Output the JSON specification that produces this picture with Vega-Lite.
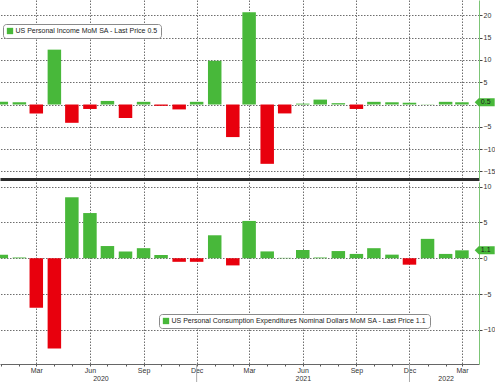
{
  "$schema": "https://vega.github.io/schema/vega-lite/v6.json",
  "padding": 0,
  "background": "white",
  "spacing": 3,
  "config": {
    "view": {"stroke": null},
    "font": "Liberation Sans",
    "axis": {"labelFont": "Liberation Sans", "labelFontSize": 7, "labelColor": "#333", "title": null, "labelOverlap": false, "grid": true, "gridColor": "#6e6e6e", "gridDash": [1.5, 1.5], "gridWidth": 1}
  },
  "resolve": {"scale": {"color": "independent", "y": "independent", "x": "independent"}, "legend": {"color": "independent"}},
  "vconcat": [
    {
      "width": 479,
      "height": 179,
      "layer": [
        {
          "data": {"values": [
            {"date": "2020-01-01", "v": 0.6}, {"date": "2020-02-01", "v": 0.5}, {"date": "2020-03-01", "v": -2.0},
            {"date": "2020-04-01", "v": 12.3}, {"date": "2020-05-01", "v": -4.1}, {"date": "2020-06-01", "v": -1.0},
            {"date": "2020-07-01", "v": 0.8}, {"date": "2020-08-01", "v": -3.0}, {"date": "2020-09-01", "v": 0.6},
            {"date": "2020-10-01", "v": -0.3}, {"date": "2020-11-01", "v": -1.1}, {"date": "2020-12-01", "v": 0.6},
            {"date": "2021-01-01", "v": 9.8}, {"date": "2021-02-01", "v": -7.3}, {"date": "2021-03-01", "v": 20.7},
            {"date": "2021-04-01", "v": -13.3}, {"date": "2021-05-01", "v": -2.0}, {"date": "2021-06-01", "v": 0.2},
            {"date": "2021-07-01", "v": 1.1}, {"date": "2021-08-01", "v": 0.3}, {"date": "2021-09-01", "v": -1.0},
            {"date": "2021-10-01", "v": 0.6}, {"date": "2021-11-01", "v": 0.5}, {"date": "2021-12-01", "v": 0.4},
            {"date": "2022-01-01", "v": 0.05}, {"date": "2022-02-01", "v": 0.6}, {"date": "2022-03-01", "v": 0.5}
          ]},
          "transform": [{"calculate": "datum.v < 0 ? 'neg' : 'US Personal Income MoM SA - Last Price 0.5'", "as": "s"}],
          "mark": {"type": "bar", "width": 13.5, "clip": true},
          "encoding": {
            "x": {"field": "date", "type": "temporal",
              "scale": {"type": "utc", "domain": [{"year": 2020, "month": 1, "date": 7, "hours": 8, "utc": true}, {"year": 2022, "month": 3, "date": 21, "hours": 16, "utc": true}]},
              "axis": {"orient": "bottom", "labels": false, "ticks": false, "domain": true, "domainColor": "#2b2b2b", "domainWidth": 3, "grid": true,
                "gridOpacity": {"condition": {"test": "utcmonth(datum.value) % 3 == 2", "value": 1}, "value": 0},
                "tickCount": {"interval": "month", "step": 1}}},
            "y": {"field": "v", "type": "quantitative", "scale": {"domain": [-16.7, 23.43], "nice": false, "zero": false},
              "axis": {"orient": "right", "tickCount": 8, "grid": true, "labelExpr": "datum.value == 0 ? '' : datum.label",
                "labelOverlap": false, "labelFlush": false, "labelBound": false, "domainColor": "#7cc576", "tickColor": "#444", "tickSize": 3, "labelPadding": 1}},
            "color": {"field": "s", "type": "nominal",
              "scale": {"domain": ["US Personal Income MoM SA - Last Price 0.5", "neg"], "range": ["#48b83a", "#e8000d"]},
              "legend": {"orient": "none", "title": null, "symbolType": "square", "symbolSize": 40, "symbolStrokeWidth": 0, "labelFontSize": 7, "labelFont": "Liberation Sans", "labelColor": "#222", "strokeColor": "#8a8a8a", "fillColor": "white", "cornerRadius": 3, "padding": 3.5, "labelOffset": 2, "labelLimit": 500,
                "values": ["US Personal Income MoM SA - Last Price 0.5"], "legendX": 3, "legendY": 24}}
          }
        },
        {
          "data": {"values": [{"date": "2022-04-09", "v": 0.5, "t": "0.5"}]},
          "mark": {"type": "point", "shape": "M-1,0L-0.6,-0.4L1,-0.4L1,0.4L-0.6,0.4Z", "filled": true, "size": 400, "opacity": 1, "color": "#48b83a", "strokeWidth": 0},
          "encoding": {"x": {"field": "date", "type": "temporal"}, "y": {"field": "v", "type": "quantitative"}}
        },
        {
          "data": {"values": [{"date": "2022-04-09", "v": 0.5, "t": "0.5"}]},
          "mark": {"type": "text", "fontSize": 7, "color": "#1a1a1a", "font": "Liberation Sans", "align": "center", "baseline": "middle", "dx": 1},
          "encoding": {"x": {"field": "date", "type": "temporal"}, "y": {"field": "v", "type": "quantitative"}, "text": {"field": "t"}}
        }
      ]
    },
    {
      "width": 479,
      "height": 182,
      "layer": [
        {
          "data": {"values": [
            {"date": "2020-01-01", "v": 0.5}, {"date": "2020-02-01", "v": 0.1}, {"date": "2020-03-01", "v": -6.9},
            {"date": "2020-04-01", "v": -12.6}, {"date": "2020-05-01", "v": 8.5}, {"date": "2020-06-01", "v": 6.3},
            {"date": "2020-07-01", "v": 1.7}, {"date": "2020-08-01", "v": 0.95}, {"date": "2020-09-01", "v": 1.4},
            {"date": "2020-10-01", "v": 0.45}, {"date": "2020-11-01", "v": -0.5}, {"date": "2020-12-01", "v": -0.5},
            {"date": "2021-01-01", "v": 3.2}, {"date": "2021-02-01", "v": -1.0}, {"date": "2021-03-01", "v": 5.2},
            {"date": "2021-04-01", "v": 0.95}, {"date": "2021-05-01", "v": 0.05}, {"date": "2021-06-01", "v": 1.15},
            {"date": "2021-07-01", "v": 0.1}, {"date": "2021-08-01", "v": 1.0}, {"date": "2021-09-01", "v": 0.6},
            {"date": "2021-10-01", "v": 1.4}, {"date": "2021-11-01", "v": 0.5}, {"date": "2021-12-01", "v": -0.9},
            {"date": "2022-01-01", "v": 2.7}, {"date": "2022-02-01", "v": 0.6}, {"date": "2022-03-01", "v": 1.1}
          ]},
          "transform": [{"calculate": "datum.v < 0 ? 'neg' : 'US Personal Consumption Expenditures Nominal Dollars MoM SA - Last Price 1.1'", "as": "s"}],
          "mark": {"type": "bar", "width": 13.5, "clip": true},
          "encoding": {
            "x": {"field": "date", "type": "temporal",
              "scale": {"type": "utc", "domain": [{"year": 2020, "month": 1, "date": 7, "hours": 8, "utc": true}, {"year": 2022, "month": 3, "date": 21, "hours": 16, "utc": true}]},
              "axis": {"orient": "bottom", "domain": true, "domainColor": "#666", "grid": true,
                "gridOpacity": {"condition": {"test": "utcmonth(datum.value) % 3 == 2", "value": 1}, "value": 0},
                "tickCount": {"interval": "month", "step": 1},
                "tickColor": "#555", "tickSize": 2,
                "labelOffset": {"condition": {"test": "utcmonth(datum.value) == 6 && utcyear(datum.value) == 2020", "value": -7}, "value": 0},
                "labelOverlap": false, "labelFlush": false, "labelPadding": 0, "labelBaseline": "top", "labelLineHeight": 8,
                "labelExpr": "utcmonth(datum.value) % 3 == 2 ? ((utcmonth(datum.value) == 5 && utcyear(datum.value) == 2021) ? ['Jun', '2021'] : utcFormat(datum.value, '%b')) : ((utcmonth(datum.value) == 6 && utcyear(datum.value) == 2020) ? ['', '2020'] : ((utcmonth(datum.value) == 1 && utcyear(datum.value) == 2022) ? ['', '2022'] : ''))"}},
            "y": {"field": "v", "type": "quantitative", "scale": {"domain": [-14.75, 10.63], "nice": false, "zero": false},
              "axis": {"orient": "right", "tickCount": 5, "grid": true,
                "labelOverlap": false, "labelFlush": false, "labelBound": false, "domainColor": "#7cc576", "tickColor": "#444", "tickSize": 3, "labelPadding": 1}},
            "color": {"field": "s", "type": "nominal",
              "scale": {"domain": ["US Personal Consumption Expenditures Nominal Dollars MoM SA - Last Price 1.1", "neg"], "range": ["#48b83a", "#e8000d"]},
              "legend": {"orient": "none", "title": null, "symbolType": "square", "symbolSize": 40, "symbolStrokeWidth": 0, "labelFontSize": 7, "labelFont": "Liberation Sans", "labelColor": "#222", "strokeColor": "#8a8a8a", "fillColor": "white", "cornerRadius": 3, "padding": 3.5, "labelOffset": 2, "labelLimit": 500,
                "values": ["US Personal Consumption Expenditures Nominal Dollars MoM SA - Last Price 1.1"], "legendX": 159, "legendY": 132}}
          }
        },
        {
          "data": {"values": [{"date": "2020-12-01"}, {"date": "2021-12-01"}]},
          "mark": {"type": "rule", "color": "#aaaaaa", "strokeWidth": 1, "clip": false},
          "encoding": {"x": {"field": "date", "type": "temporal"}, "y": {"datum": -14.75}, "y2": {"datum": -17.3}}
        },
        {
          "data": {"values": [{"date": "2022-04-09", "v": 1.1, "t": "1.1"}]},
          "mark": {"type": "point", "shape": "M-1,0L-0.6,-0.4L1,-0.4L1,0.4L-0.6,0.4Z", "filled": true, "size": 400, "opacity": 1, "color": "#48b83a", "strokeWidth": 0},
          "encoding": {"x": {"field": "date", "type": "temporal"}, "y": {"field": "v", "type": "quantitative"}}
        },
        {
          "data": {"values": [{"date": "2022-04-09", "v": 1.1, "t": "1.1"}]},
          "mark": {"type": "text", "fontSize": 7, "color": "#1a1a1a", "font": "Liberation Sans", "align": "center", "baseline": "middle", "dx": 1},
          "encoding": {"x": {"field": "date", "type": "temporal"}, "y": {"field": "v", "type": "quantitative"}, "text": {"field": "t"}}
        }
      ]
    }
  ]
}
